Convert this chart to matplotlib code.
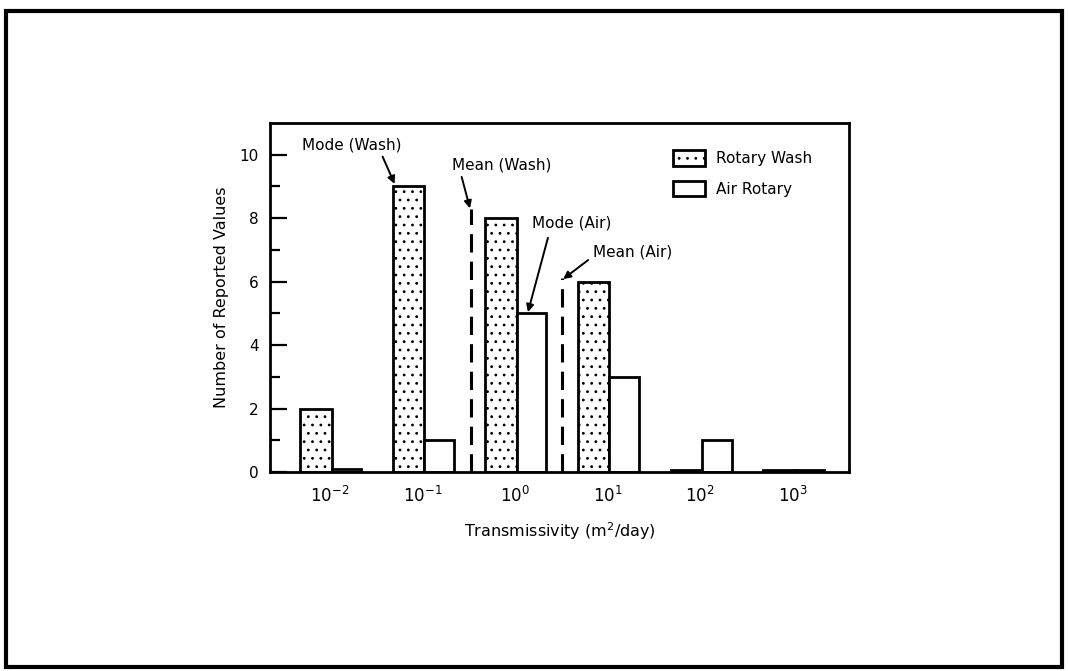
import numpy as np
import matplotlib.pyplot as plt
from matplotlib.patches import Rectangle

# decades on the x axis and counts per decade
exponents = [-2, -1, 0, 1, 2, 3]
rotary_wash = [2, 9, 8, 6, 0.05, 0.05]
air_rotary = [0.08, 1, 5, 3, 1, 0.05]
tick_labels = ['$10^{-2}$', '$10^{-1}$', '$10^{0}$', '$10^{1}$', '$10^{2}$', '$10^{3}$']

mean_wash = 0.333
mean_wash_top = 8.3
mean_air = 3.24
mean_air_top = 6.1

plt.rcParams['font.family'] = ['DejaVu Sans']
plt.rcParams['mathtext.default'] = 'regular'
plt.rcParams['hatch.linewidth'] = 0.8

fig = plt.figure(figsize=(10.68, 6.71), dpi=100)
ax = fig.add_axes([0.2528, 0.2966, 0.5421, 0.5201])

e = np.array(exponents, dtype=float)
wash_left = 10 ** (e - 0.32)
wash_right = 10 ** (e + 0.02)
air_right = 10 ** (e + 0.34)

ax.bar(wash_left, rotary_wash, width=wash_right - wash_left, align='edge',
       facecolor='white', edgecolor='black', linewidth=2, hatch='..',
       label='Rotary Wash')
ax.bar(wash_right, air_rotary, width=air_right - wash_right, align='edge',
       facecolor='white', edgecolor='black', linewidth=2, label='Air Rotary')

ax.plot([mean_wash, mean_wash], [0, mean_wash_top], color='black', lw=2.2,
        dashes=(6, 3))
ax.plot([mean_air, mean_air], [0, mean_air_top], color='black', lw=2.2,
        dashes=(6, 3))

arrow = dict(arrowstyle='-|>', color='black', lw=1.4, mutation_scale=11,
             shrinkA=0, shrinkB=0)
fs = 11
ax.text(10 ** -1.76, 10.3, 'Mode (Wash)', ha='center', va='center', fontsize=fs)
ax.annotate('', xy=(10 ** -1.30, 9.08), xytext=(10 ** -1.43, 9.94),
            arrowprops=arrow)
ax.text(10 ** -0.14, 9.67, 'Mean (Wash)', ha='center', va='center', fontsize=fs)
ax.annotate('', xy=(10 ** -0.486, 8.31), xytext=(10 ** -0.576, 9.3),
            arrowprops=arrow)
ax.text(10 ** 0.616, 7.85, 'Mode (Air)', ha='center', va='center', fontsize=fs)
ax.annotate('', xy=(10 ** 0.14, 5.04), xytext=(10 ** 0.356, 7.38),
            arrowprops=arrow)
ax.text(10 ** 1.27, 6.93, 'Mean (Air)', ha='center', va='center', fontsize=fs)
ax.annotate('', xy=(10 ** 0.52, 6.08), xytext=(10 ** 0.79, 6.68),
            arrowprops=arrow)

ax.set_xscale('log')
ax.set_xlim(10 ** -2.646, 10 ** 3.607)
ax.set_ylim(0, 11)
ax.set_xticks([10.0 ** x for x in exponents])
ax.set_xticklabels(tick_labels, fontsize=12)
ax.xaxis.set_minor_locator(plt.NullLocator())
ax.tick_params(axis='x', length=0, pad=10)
ax.set_yticks([0, 2, 4, 6, 8, 10])
ax.set_yticks([1, 3, 5, 7, 9], minor=True)
ax.tick_params(axis='y', which='major', direction='in', length=12, width=1.6,
               labelsize=11, pad=8)
ax.tick_params(axis='y', which='minor', direction='in', length=7, width=1.6)
for s in ax.spines.values():
    s.set_linewidth(2)

ax.set_xlabel('Transmissivity (m$^2$/day)', fontsize=11.5, labelpad=10)
ax.set_ylabel('Number of Reported Values', fontsize=11.5, labelpad=8)

ax.legend(loc='upper left', bbox_to_anchor=(0.685, 0.94), frameon=False,
          fontsize=11, handlelength=2.1, handleheight=1.2, handletextpad=0.75,
          labelspacing=0.95, borderaxespad=0)

# scanned page frame
fig.patches.append(Rectangle((0.006, 0.006), 0.988, 0.978, transform=fig.transFigure,
                             fill=False, edgecolor='black', linewidth=3))

fig.savefig('out.png', dpi=100)
